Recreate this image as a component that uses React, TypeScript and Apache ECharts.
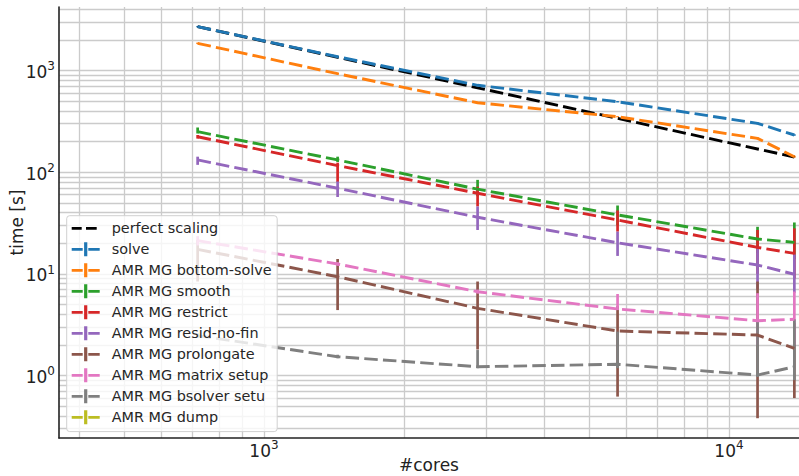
import React, { useEffect, useRef } from 'react';
import * as echarts from 'echarts';

// ---------- data ----------
const CORES = [720, 1440, 2880, 5760, 11520, 13824];

const PERFECT = [2700, 1350, 675, 338, 169, 141];

const SOLVE = [2700, 1365, 715, 493, 302, 232];
const SOLVE_LO = [2660, 1345, 702, 485, 296, 228];
const SOLVE_HI = [2740, 1385, 728, 501, 308, 236];

const BOTTOM = [1850, 930, 482, 351, 215, 142];
const BOTTOM_LO = [1820, 915, 475, 346, 211, 139];
const BOTTOM_HI = [1880, 945, 490, 356, 219, 145];

const SMOOTH = [250, 132, 68, 38, 22, 20.4];
const SMOOTH_LO = [240, 126, 58, 30, 16, 14];
const SMOOTH_HI = [275, 142, 84, 47, 29, 32];

const RESTRICT = [223, 116, 62, 33.8, 18.2, 15.9];
const RESTRICT_LO = [214, 80, 46, 26, 10, 9];
const RESTRICT_HI = [232, 124, 72, 42, 27, 28];

const RESID = [132, 69.4, 36, 20.2, 12.2, 9.9];
const RESID_LO = [118, 57, 27, 15, 7, 6.5];
const RESID_HI = [142, 81, 46, 26, 17.8, 15.5];

const PROLONG = [17.4, 9.37, 4.58, 2.74, 2.5, 1.85];
const PROLONG_LO = [8.4, 4.4, 1.8, 0.62, 0.38, 0.6];
const PROLONG_HI = [21.5, 14, 8.4, 4.8, 8.4, 3.3];

const MATRIX = [21.2, 12.5, 6.67, 4.51, 3.46, 3.57];
const MATRIX_LO = [19, 12, 6.4, 4.4, 2.0, 2.0];
const MATRIX_HI = [23.5, 13, 7.0, 6.33, 6.45, 6.7];

const BSOLVER = [2.47, 1.53, 1.22, 1.29, 1.01, 1.22];
const BSOLVER_LO = [2.35, 1.48, 1.18, 1.18, 0.97, 0.9];
const BSOLVER_HI = [2.6, 1.6, 1.78, 2.7, 3.46, 3.57];

const DUMP: number[] = [];
const DUMP_LO: number[] = [];
const DUMP_HI: number[] = [];

const X_GRID = [400, 500, 600, 700, 800, 900, 1000, 2000, 3000, 4000, 5000, 6000, 7000, 8000, 9000, 10000];
const Y_GRID = [
  0.3, 0.4, 0.5, 0.6, 0.7, 0.8, 0.9,
  1, 2, 3, 4, 5, 6, 7, 8, 9,
  10, 20, 30, 40, 50, 60, 70, 80, 90,
  100, 200, 300, 400, 500, 600, 700, 800, 900,
  1000, 2000, 3000, 4000,
];

const X_MIN = 362.4;
const X_MAX = 14145;
const Y_MIN = 0.2428;
const Y_MAX = 4212;

const PERFECT_NAME = 'perfect scaling';
const SERIES_DEFS = [
  { name: 'solve', v: SOLVE, lo: SOLVE_LO, hi: SOLVE_HI },
  { name: 'AMR MG bottom-solve', v: BOTTOM, lo: BOTTOM_LO, hi: BOTTOM_HI },
  { name: 'AMR MG smooth', v: SMOOTH, lo: SMOOTH_LO, hi: SMOOTH_HI },
  { name: 'AMR MG restrict', v: RESTRICT, lo: RESTRICT_LO, hi: RESTRICT_HI },
  { name: 'AMR MG resid-no-fin', v: RESID, lo: RESID_LO, hi: RESID_HI },
  { name: 'AMR MG prolongate', v: PROLONG, lo: PROLONG_LO, hi: PROLONG_HI },
  { name: 'AMR MG matrix setup', v: MATRIX, lo: MATRIX_LO, hi: MATRIX_HI },
  { name: 'AMR MG bsolver setu', v: BSOLVER, lo: BSOLVER_LO, hi: BSOLVER_HI },
  { name: 'AMR MG dump', v: DUMP, lo: DUMP_LO, hi: DUMP_HI },
];

// ---------- styles ----------
const COLORS = ['#1f77b4', '#ff7f0e', '#2ca02c', '#d62728', '#9467bd', '#8c564b', '#e377c2', '#7f7f7f', '#bcbd22'];
const FONT = 'DejaVu Sans';
const LW = 2.9;
const EW = 2.7;
const DASH = [13.5, 5.2];
const SPECKS = 'M0,0h0.01v0.01h-0.01z M34.99,13.99h0.01v0.01h-0.01z ';
const ICON_ERR = 'path://' + SPECKS + 'M0,5.6h11v2.8h-11z M12.4,0h3.2v14h-3.2z M16.6,5.6h11.4v2.8h-11.4z';
const ICON_DASH = 'path://' + SPECKS + 'M0,5.6h10v2.8h-10z M14.3,5.6h10.7v2.8h-10.7z';

function powLabel(v: number) {
  const e = Math.log10(v);
  if (Math.abs(e - Math.round(e)) > 1e-6) return '';
  return '{b|10}{s|' + Math.round(e) + '}';
}

const labelRich = {
  b: { fontSize: 17, fontFamily: FONT, color: '#222', padding: [3, 0, 0, 0], verticalAlign: 'bottom' },
  s: { fontSize: 12, fontFamily: FONT, color: '#222', verticalAlign: 'top' },
};

function buildOption() {
  const series: any[] = [];

  // grid lines through the library's own scales
  series.push({
    type: 'line',
    name: '__grid',
    data: [[1000, 1]],
    symbol: 'none',
    silent: true,
    lineStyle: { opacity: 0 },
    z: 1,
    markLine: {
      silent: true,
      z: 1,
      symbol: ['none', 'none'],
      label: { show: false },
      emphasis: { disabled: true },
      lineStyle: { color: '#cbcbcb', width: 1.3, type: 'solid' },
      animation: false,
      data: [...X_GRID.map((v) => ({ xAxis: v })), ...Y_GRID.map((v) => ({ yAxis: v }))],
    },
  });

  series.push({
    type: 'line',
    name: PERFECT_NAME,
    data: CORES.map((x, i) => [x, PERFECT[i]]),
    symbol: 'none',
    silent: true,
    itemStyle: { color: '#000' },
    lineStyle: { color: '#000', width: LW, type: DASH, cap: 'butt' },
    z: 2,
  });

  SERIES_DEFS.forEach((d, k) => {
    const color = COLORS[k];
    series.push({
      type: 'line',
      name: d.name,
      data: d.v.map((y, i) => [CORES[i], y]),
      symbol: 'none',
      silent: true,
      itemStyle: { color },
      lineStyle: { color, width: LW, type: DASH, cap: 'butt' },
      z: 2,
    });
    series.push({
      type: 'custom',
      name: d.name,
      silent: true,
      z: 2,
      data: d.v.map((_, i) => [CORES[i], d.lo[i], d.hi[i]]),
      encode: { x: 0, y: [1, 2] },
      itemStyle: { color },
      renderItem: (_params: any, api: any) => {
        const x = api.value(0);
        const p1 = api.coord([x, api.value(1)]);
        const p2 = api.coord([x, api.value(2)]);
        return {
          type: 'line',
          shape: { x1: p1[0], y1: p1[1], x2: p2[0], y2: p2[1] },
          style: { stroke: color, lineWidth: EW, lineCap: 'butt' },
        };
      },
    });
  });

  const legendData = [
    { name: PERFECT_NAME, icon: ICON_DASH, itemStyle: { color: '#000', borderWidth: 0 } },
    ...SERIES_DEFS.map((d, k) => ({ name: d.name, icon: ICON_ERR, itemStyle: { color: COLORS[k], borderWidth: 0 } })),
  ];

  return {
    animation: false,
    backgroundColor: '#fff',
    textStyle: { fontFamily: FONT },
    grid: { left: 59, right: 0, top: 7, bottom: 38, containLabel: false, outerBoundsMode: 'none' },
    legend: {
      orient: 'vertical',
      left: 66.7,
      top: 215.7,
      itemWidth: 35,
      itemHeight: 14,
      itemGap: 7,
      padding: [5.6, 5.6, 7.3, 5],
      backgroundColor: 'rgba(255,255,255,0.8)',
      borderColor: '#d0d0d0',
      borderWidth: 1,
      borderRadius: 3,
      selectedMode: false,
      itemStyle: { borderWidth: 0 },
      textStyle: { fontFamily: FONT, fontSize: 14.4, color: '#262626' },
      data: legendData,
      z: 10,
    },
    xAxis: {
      type: 'log',
      logBase: 10,
      min: X_MIN,
      max: X_MAX,
      name: '#cores',
      nameLocation: 'middle',
      nameGap: 18,
      nameMoveOverlap: false,
      nameTextStyle: { fontFamily: FONT, fontSize: 17, color: '#222', verticalAlign: 'top' },
      axisLine: { show: true, lineStyle: { color: '#222', width: 1.6 } },
      axisTick: { show: false },
      minorTick: { show: false },
      splitLine: { show: false },
      axisLabel: { margin: 1, formatter: powLabel, rich: labelRich, showMinLabel: false, showMaxLabel: false },
      z: 5,
    },
    yAxis: {
      type: 'log',
      logBase: 10,
      min: Y_MIN,
      max: Y_MAX,
      name: 'time [s]',
      nameLocation: 'middle',
      nameGap: 34,
      nameRotate: 90,
      nameMoveOverlap: false,
      nameTextStyle: { fontFamily: FONT, fontSize: 17, color: '#222' },
      axisLine: { show: true, lineStyle: { color: '#222', width: 1.6 } },
      axisTick: { show: false },
      minorTick: { show: false },
      splitLine: { show: false },
      axisLabel: { margin: 4, formatter: powLabel, rich: labelRich, showMinLabel: false, showMaxLabel: false },
      z: 5,
    },
    series,
  };
}

export default function App() {
  const ref = useRef<HTMLDivElement>(null);
  useEffect(() => {
    if (!ref.current) return;
    const chart = echarts.init(ref.current, undefined, { renderer: 'svg' });
    chart.setOption(buildOption() as any);
    return () => chart.dispose();
  }, []);
  return <div ref={ref} style={{ position: 'fixed', left: 0, top: 0, width: 799, height: 476 }} />;
}
